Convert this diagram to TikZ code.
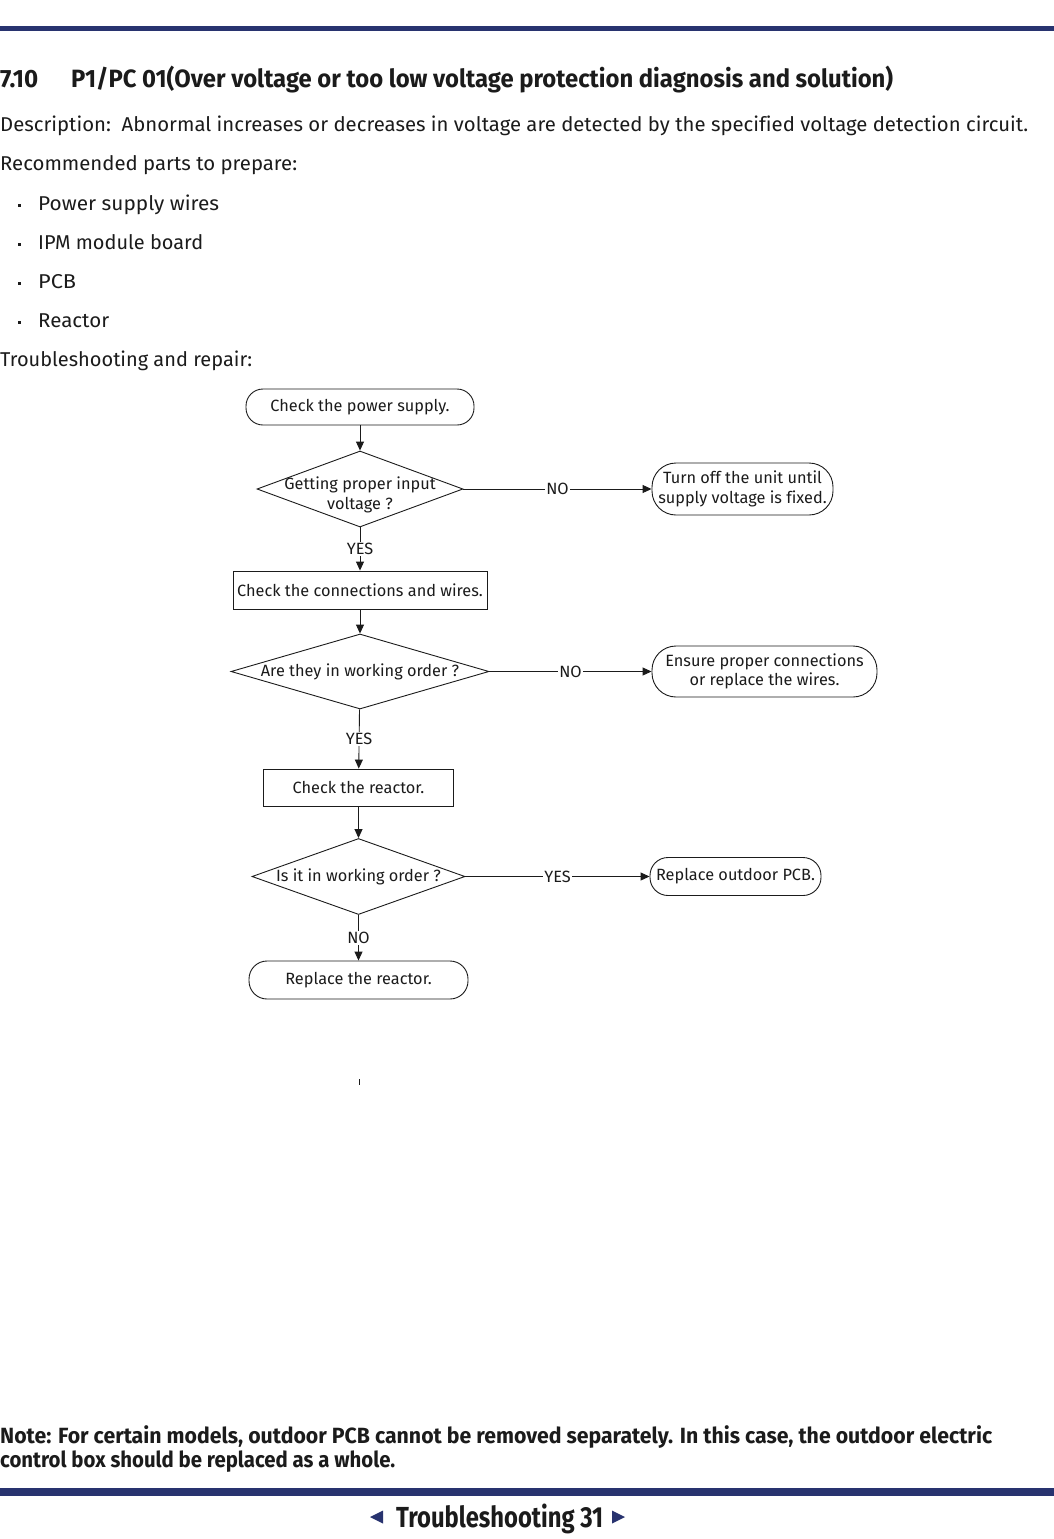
\documentclass[tikz,border=0pt]{standalone}
\usepackage{fontspec}
\usepackage{graphicx}
\setmainfont[FakeStretch=0.9, Ligatures=NoCommon]{Fira Sans}
\newfontfamily\fcfont[Ligatures=NoCommon]{Fira Sans}
\usetikzlibrary{arrows.meta,shapes.geometric}
\definecolor{navy}{HTML}{28336F}
\definecolor{ink}{HTML}{1B1B1B}
\newlength\fitwd
\newcommand\fitw[2]{\settowidth\fitwd{#2}\pgfmathsetmacro\fitratio{#1/\fitwd}\scalebox{\fitratio}[1]{#2}}
\newcommand\titlef{\fontsize{25}{28}\selectfont\bfseries}
\newcommand\bodyf{\fontsize{20}{24}\selectfont}
\newcommand\notef{\fontsize{22}{26}\selectfont\bfseries}
\newcommand\footf{\fontsize{29}{32}\selectfont\bfseries}
\begin{document}
\begin{tikzpicture}[x=1pt,y=-1pt,
  every node/.style={text=ink, inner sep=0pt},
  line/.style={anchor=base west},
  fc/.style={font=\fcfont\fontsize{16.3}{19.5}\selectfont},
  term/.style={draw=ink, line width=0.9pt, fc, align=center},
  proc/.style={draw=ink, line width=0.9pt, fc, align=center},
  dia/.style={draw=ink, line width=0.9pt, diamond, inner sep=0pt},
  flow/.style={draw=ink, line width=0.9pt, -{Triangle[length=9pt,width=8pt]}},
  lab/.style={fc, fill=white, inner sep=1pt},
]
\useasboundingbox[fill=white] (0,0) rectangle (1054,1539);
% header bar
\fill[navy] (0,26) rectangle (1054,30.7);
% title
\node[line] (num) at (0,87.5) {\fitw{38pt}{\titlef 7.10}};
\node[line] (title) at (71,87.5) {\fitw{822pt}{\titlef P1/PC 01(Over voltage or too low voltage protection diagnosis and solution)}};
% body
\node[line] (desc) at (0,131) {\fitw{1028pt}{\bodyf Description:\ \ Abnormal increases or decreases in voltage are detected by the specified voltage detection circuit.}};
\node[line] (rec) at (0,170) {\fitw{297pt}{\bodyf Recommended parts to prepare:}};
\fill[ink] (18,204) rectangle (21,207);
\fill[ink] (18,243) rectangle (21,246);
\fill[ink] (18,282) rectangle (21,285);
\fill[ink] (18,321) rectangle (21,324);
\node[line] (i1) at (38,210) {\fitw{181pt}{\bodyf Power supply wires}};
\node[line] (i2) at (38,249) {\fitw{165pt}{\bodyf IPM module board}};
\node[line] (i3) at (38,288) {\fitw{38pt}{\bodyf PCB}};
\node[line] (i4) at (38,327) {\fitw{71pt}{\bodyf Reactor}};
\node[line] (tr) at (0,366) {\fitw{252pt}{\bodyf Troubleshooting and repair:}};
% flowchart nodes
\node[term, rounded corners=17pt, minimum width=228pt, minimum height=36pt] (s) at (360,407) {Check the power supply.};
\node[dia, minimum width=206pt, minimum height=76pt] (d1) at (360,489) {};
\node[fc, align=center] (d1t) at (360,495) {Getting proper input\\voltage ?};
\node[term, rounded corners=24pt, minimum width=181pt, minimum height=52pt] (t1) at (742.5,489) {Turn off the unit until\\supply voltage is fixed.};
\node[proc, minimum width=254pt, minimum height=38pt] (b1) at (360,590) {Check the connections and wires.};
\node[dia, minimum width=258pt, minimum height=75pt] (d2) at (360,671.5) {};
\node[fc] (d2t) at (360,671.5) {Are they in working order ?};
\node[term, rounded corners=24pt, minimum width=225pt, minimum height=51pt] (t2) at (764.5,671.5) {Ensure proper connections\\or replace the wires.};
\node[proc, minimum width=190pt, minimum height=37pt] (b2) at (358.5,787.5) {Check the reactor.};
\node[dia, minimum width=213pt, minimum height=76pt] (d3) at (358.5,876.5) {};
\node[fc] (d3t) at (358.5,876.5) {Is it in working order ?};
\node[term, rounded corners=18pt, minimum width=171pt, minimum height=38pt] (t3) at (735.5,876.5) {Replace outdoor PCB.};
\node[term, rounded corners=18pt, minimum width=219pt, minimum height=38pt] (r) at (358.5,980) {Replace the reactor.};
% connectors
\draw[flow] (s) -- (d1);
\draw[flow] (d1) -- node[lab] {NO} (t1);
\draw[flow] (d1) -- node[lab] {YES} (b1);
\draw[flow] (b1) -- (d2);
\draw[flow] (d2) -- node[lab] {NO} (t2);
\draw[flow] (d2) -- node[lab] {YES} (b2);
\draw[flow] (b2) -- (d3);
\draw[flow] (d3) -- node[lab] {YES} (t3);
\draw[flow] (d3) -- node[lab] {NO} (r);
% stray tick
\coordinate (k1) at (359,1079);
\coordinate (k2) at (359,1085);
\draw[ink, line width=1pt] (k1) -- (k2);
% note
\node[line] (n1) at (0,1443) {\fitw{992pt}{\notef Note: For certain models, outdoor PCB cannot be removed separately. In this case, the outdoor electric}};
\node[line] (n2) at (0,1467) {\fitw{395pt}{\notef control box should be replaced as a whole.}};
% footer
\fill[navy] (0,1488) rectangle (1054,1496);
\fill[navy] (370,1517) -- (383,1510.5) -- (383,1523.5) -- cycle;
\fill[navy] (625,1517) -- (612,1510.5) -- (612,1523.5) -- cycle;
\node[line] (ft) at (396,1527) {\fitw{207pt}{\footf Troubleshooting 31}};
\end{tikzpicture}
\end{document}
